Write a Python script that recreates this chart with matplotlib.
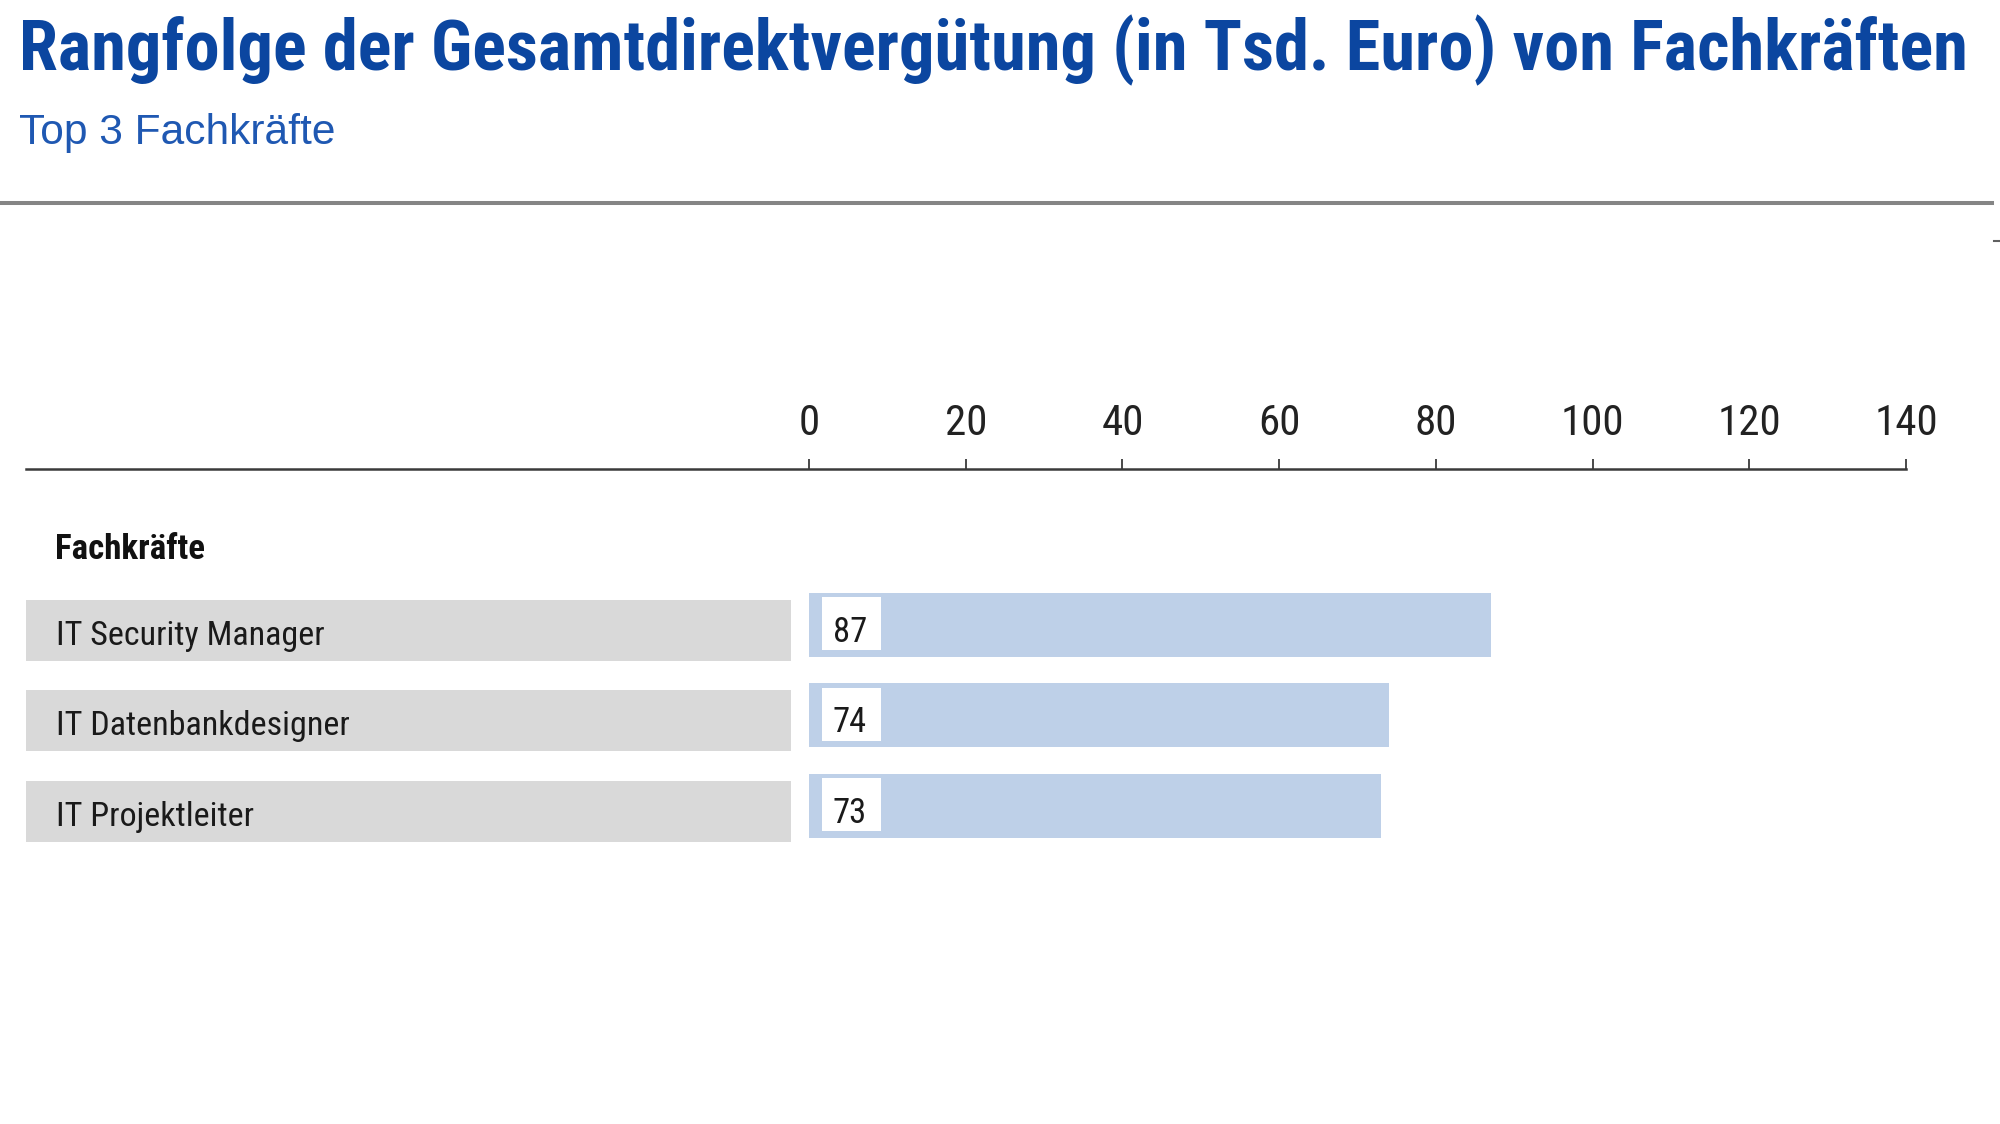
import matplotlib
matplotlib.use('Agg')
import matplotlib.pyplot as plt
from matplotlib import font_manager as fm
from matplotlib.patches import Rectangle
from matplotlib.lines import Line2D

# ---- data ----
categories = ["IT Security Manager", "IT Datenbankdesigner", "IT Projektleiter"]
values = [87, 74, 73]
xticks = [0, 20, 40, 60, 80, 100, 120, 140]
title = "Rangfolge der Gesamtdirektvergütung (in Tsd. Euro) von Fachkräften"
subtitle = "Top 3 Fachkräfte"
group_label = "Fachkräfte"

# ---- layout / style ----
W, H, DPI = 2000, 1124, 100
TITLE_BLUE = '#0b46a0'
SUB_BLUE = '#1f58b2'
BAR_BLUE = '#bed0e8'
BOX_GRAY = '#d9d9d9'
AXIS_COL = '#3a3a3a'


def pick_narrow(bold):
    """Find a condensed / narrow sans font file, if any is installed."""
    prefs = ['liberation', 'arial', 'roboto', 'noto', 'open', 'dejavu', 'lato', 'inter']
    cands = []
    for f in fm.fontManager.ttflist:
        n = f.fname.lower()
        if not ('narrow' in n or 'condensed' in n):
            continue
        if 'italic' in n or 'oblique' in n or f.style != 'normal':
            continue
        if any(k in n for k in ['semi', 'extra', 'light', 'thin', 'medium', 'black', 'ultra']):
            continue
        w = f.weight if isinstance(f.weight, int) else (700 if 'bold' in str(f.weight) else 400)
        isbold = w >= 600 or 'bold' in n
        if isbold != bold:
            continue
        rank = next((i for i, k in enumerate(prefs) if k in n or k in f.name.lower()), 99)
        cands.append((rank, f.fname))
    if cands:
        cands.sort()
        return fm.FontProperties(fname=cands[0][1])
    return fm.FontProperties(family='Liberation Sans', weight='bold' if bold else 'normal')


FP_N = pick_narrow(False)
FP_NB = pick_narrow(True)
FP_REG = fm.FontProperties(family='Liberation Sans')


def fp(base, size):
    p = base.copy()
    p.set_size(size)
    return p


fig = plt.figure(figsize=(W / DPI, H / DPI), dpi=DPI)
fig.patch.set_facecolor('white')


def fx(px):
    return px / W


def fy(py):
    return 1 - py / H


renderer = fig.canvas.get_renderer()


def fit_width(t, target):
    w = t.get_window_extent(renderer).width
    s = t.get_fontproperties().get_size_in_points() * target / w
    t.set_fontsize(s)
    return s


# title & subtitle
t_title = fig.text(fx(19), fy(70), title, fontproperties=fp(FP_NB, 46),
                   color=TITLE_BLUE, va='baseline', ha='left')
fit_width(t_title, 1949)
t_sub = fig.text(fx(19), fy(144), subtitle, fontproperties=fp(FP_REG, 30),
                 color=SUB_BLUE, va='baseline', ha='left')
fit_width(t_sub, 316)

# separator line
fig.add_artist(Line2D([fx(0), fx(1992)], [fy(203), fy(203)], color='#858585',
                      lw=2.9, transform=fig.transFigure))
fig.add_artist(Line2D([fx(1994), fx(2000)], [fy(241), fy(241)], color='#606060',
                      lw=1.5, transform=fig.transFigure))

# ---- axes ----
ax_left_px, ax_right_px = 25.5, 1906
ax_top_px, ax_bot_px = 469, 1100
row0_px, step_px = 625, 90.5
ax = fig.add_axes([fx(ax_left_px), fy(ax_bot_px),
                   (ax_right_px - ax_left_px) / W, (ax_bot_px - ax_top_px) / H])
ax.set_xlim(-100, 140)
ax.set_ylim((ax_bot_px - row0_px) / step_px, (ax_top_px - row0_px) / step_px)
ax.patch.set_alpha(0)
for s in ['bottom', 'left', 'right']:
    ax.spines[s].set_visible(False)
ax.spines['top'].set_color(AXIS_COL)
ax.spines['top'].set_linewidth(1.8)
ax.xaxis.tick_top()
ax.set_xticks(xticks)
ax.set_xticklabels([str(v) for v in xticks])
ax.tick_params(axis='x', direction='out', length=7.3, width=1.3, color=AXIS_COL,
               pad=11, labelcolor='#222222')
tick_labels = ax.get_xticklabels()
for lab in tick_labels:
    lab.set_fontproperties(fp(FP_N, 31))
ax.set_yticks([])

ypos = list(range(len(categories)))
bar_h = 64 / step_px
ax.barh(ypos, values, height=bar_h, left=0, color=BAR_BLUE, zorder=2)

box_off = 5.5 / step_px
box_h = 61 / step_px
white_h = 53 / step_px

label_texts = []
value_texts = []
for i, (cat, v) in enumerate(zip(categories, values)):
    ax.add_patch(Rectangle((-100, i + box_off - box_h / 2), 97.7, box_h,
                           facecolor=BOX_GRAY, edgecolor='none', zorder=1))
    ax.add_patch(Rectangle((1.6, i - 1 / step_px - white_h / 2), 7.6, white_h,
                           facecolor='white', edgecolor='none', zorder=3))
    label_texts.append(ax.text(-96.1, i + 20 / step_px, cat,
                               fontproperties=fp(FP_N, 27),
                               color='#1a1a1a', va='baseline',
                               ha='left', zorder=4))
    value_texts.append(ax.text(3.0, i + 17 / step_px, str(v),
                               fontproperties=fp(FP_N, 29),
                               color='#1a1a1a', va='baseline', ha='left', zorder=4))

fs = fit_width(label_texts[0], 268)
for t in label_texts[1:]:
    t.set_fontsize(fs)
vs = fit_width(value_texts[0], 34)
for t in value_texts[1:]:
    t.set_fontsize(vs)

t_grp = ax.text(-96.2, (550 - row0_px) / step_px, group_label,
                fontproperties=fp(FP_NB, 26), color='#111111', va='center', ha='left')
fit_width(t_grp, 150)

fig.savefig('out.png', dpi=DPI, facecolor='white')
